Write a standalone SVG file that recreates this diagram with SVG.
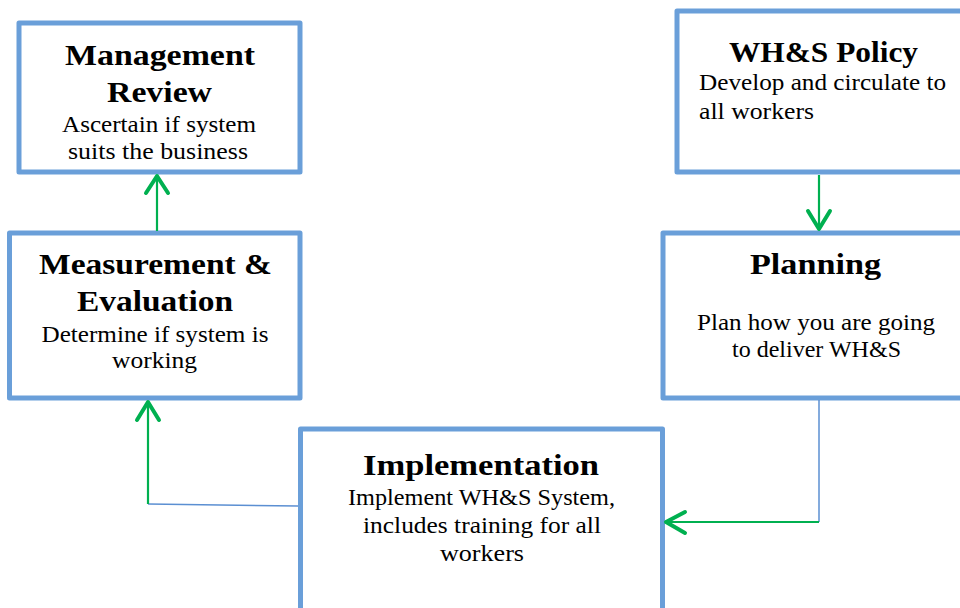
<svg xmlns="http://www.w3.org/2000/svg" width="960" height="608" viewBox="0 0 960 608">
  <style>
    .box { fill: #ffffff; stroke: #6a9fd9; stroke-width: 5; stroke-linejoin: round; }
    .title { font-family: "Liberation Serif", "DejaVu Serif", serif; font-weight: bold; font-size: 30px; fill: #000000; }
    .body { font-family: "Liberation Serif", "DejaVu Serif", serif; font-size: 23px; fill: #000000; }
    .mid { text-anchor: middle; }
    .flow { fill: none; stroke: #00b050; stroke-width: 2.2; }
    .head { fill: none; stroke: #00b050; stroke-width: 4; stroke-linecap: round; stroke-linejoin: round; }
    .link { fill: none; stroke: #5b8fd2; stroke-width: 1.5; }
  </style>
  <rect width="960" height="608" fill="#ffffff"/>

  <g id="management-review">
    <rect class="box" x="19" y="23" width="281" height="149"/>
    <text class="title mid" x="160" y="65" textLength="190" lengthAdjust="spacingAndGlyphs">Management</text>
    <text class="title mid" x="159.5" y="102" textLength="105" lengthAdjust="spacingAndGlyphs">Review</text>
    <text class="body mid" x="159" y="132" textLength="194" lengthAdjust="spacingAndGlyphs">Ascertain if system</text>
    <text class="body mid" x="158" y="159" textLength="180" lengthAdjust="spacingAndGlyphs">suits the business</text>
  </g>

  <g id="whs-policy">
    <rect class="box" x="677" y="11" width="300" height="161"/>
    <text class="title mid" x="823.5" y="62" textLength="189" lengthAdjust="spacingAndGlyphs">WH&amp;S Policy</text>
    <text class="body" x="699" y="90" textLength="247" lengthAdjust="spacingAndGlyphs">Develop and circulate to</text>
    <text class="body" x="699" y="119" textLength="115" lengthAdjust="spacingAndGlyphs">all workers</text>
  </g>

  <g id="measurement-evaluation">
    <rect class="box" x="9.5" y="233" width="290.5" height="165"/>
    <text class="title mid" x="155.5" y="274" textLength="233" lengthAdjust="spacingAndGlyphs">Measurement &amp;</text>
    <text class="title mid" x="155" y="311" textLength="156" lengthAdjust="spacingAndGlyphs">Evaluation</text>
    <text class="body mid" x="155" y="342" textLength="227" lengthAdjust="spacingAndGlyphs">Determine if system is</text>
    <text class="body mid" x="154.5" y="368" textLength="85" lengthAdjust="spacingAndGlyphs">working</text>
  </g>

  <g id="planning">
    <rect class="box" x="663" y="233" width="320" height="165"/>
    <text class="title mid" x="815.5" y="274" textLength="131" lengthAdjust="spacingAndGlyphs">Planning</text>
    <text class="body mid" x="816" y="330" textLength="238" lengthAdjust="spacingAndGlyphs">Plan how you are going</text>
    <text class="body mid" x="816.5" y="357" textLength="169" lengthAdjust="spacingAndGlyphs">to deliver WH&amp;S</text>
  </g>

  <g id="implementation">
    <rect class="box" x="300.5" y="429" width="362" height="200"/>
    <text class="title mid" x="481" y="475" textLength="236" lengthAdjust="spacingAndGlyphs">Implementation</text>
    <text class="body mid" x="481.5" y="505" textLength="267" lengthAdjust="spacingAndGlyphs">Implement WH&amp;S System,</text>
    <text class="body mid" x="482" y="533" textLength="238" lengthAdjust="spacingAndGlyphs">includes training for all</text>
    <text class="body mid" x="482" y="561" textLength="84" lengthAdjust="spacingAndGlyphs">workers</text>
  </g>

  <g id="connectors">
    <!-- Measurement & Evaluation up to Management Review -->
    <path class="flow" d="M157,231 V177"/>
    <path class="head" d="M146,193 L157,176 L168,193"/>

    <!-- WH&S Policy down to Planning -->
    <path class="flow" d="M819,175 V229"/>
    <path class="head" d="M808,211 L819,229 L830,211"/>

    <!-- Planning round to Implementation -->
    <path class="link" d="M819,400 V522"/>
    <path class="flow" d="M819,522 H666"/>
    <path class="head" d="M685,512 L666,522 L685,533"/>

    <!-- Implementation back to Measurement & Evaluation -->
    <path class="link" d="M298,506 L148,504"/>
    <path class="flow" d="M148,504 V402"/>
    <path class="head" d="M137,420 L148,402 L159,420"/>
  </g>
</svg>
